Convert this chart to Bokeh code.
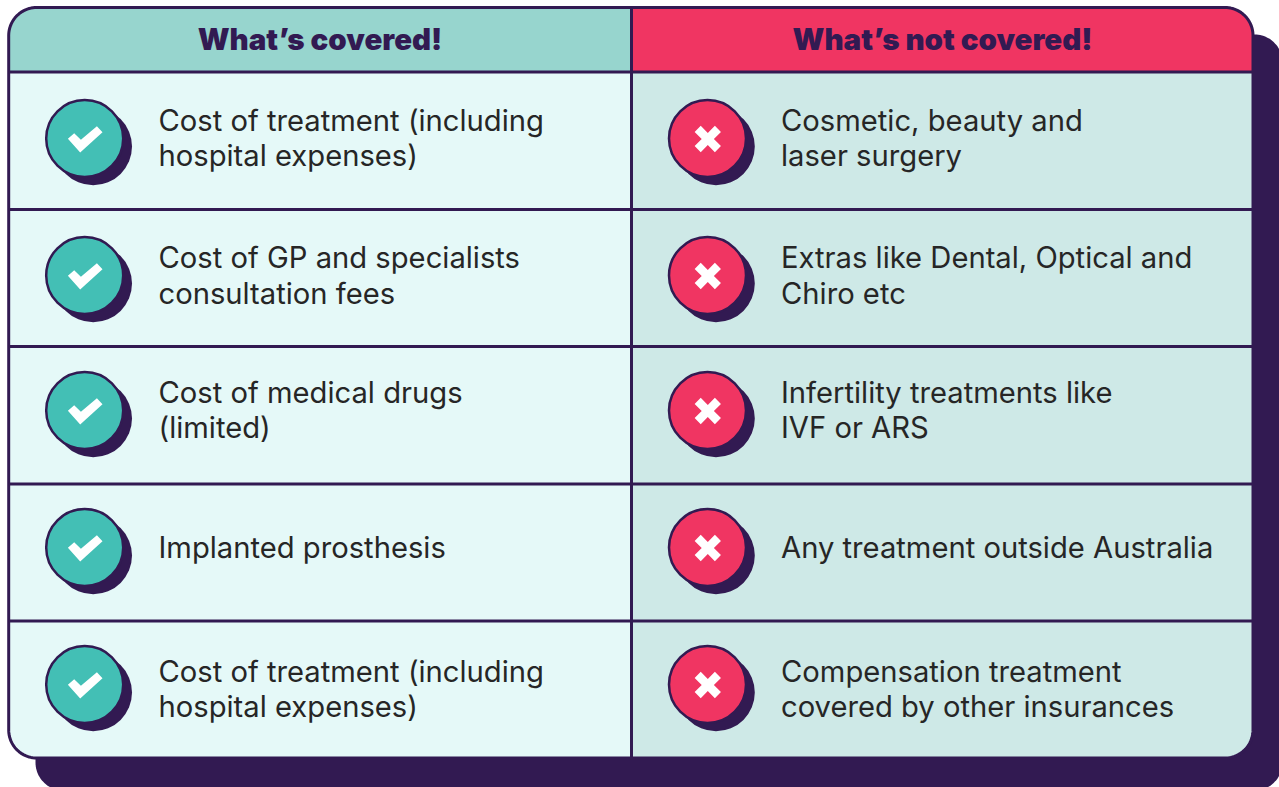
import numpy as np
from bokeh.plotting import figure
from bokeh.models import Range1d
from bokeh.core.properties import value
from bokeh.embed import file_html
from bokeh.resources import INLINE

DARK = "#321A52"
HEAD_L = "#97D5CE"
HEAD_R = "#F03562"
CELL_L = "#E5F9F8"
CELL_R = "#CEE9E7"
TEAL = "#43BFB5"
RED = "#F03562"
TEXT = "#262626"

headers = ["What\u2019s covered!", "What\u2019s not covered!"]
covered = [
    ["Cost of treatment (including", "hospital expenses)"],
    ["Cost of GP and specialists", "consultation fees"],
    ["Cost of medical drugs", "(limited)"],
    ["Implanted prosthesis"],
    ["Cost of treatment (including", "hospital expenses)"],
]
not_covered = [
    ["Cosmetic, beauty and", "laser surgery"],
    ["Extras like Dental, Optical and", "Chiro etc"],
    ["Infertility treatments like", "IVF or ARS"],
    ["Any treatment outside Australia"],
    ["Compensation treatment", "covered by other insurances"],
]
row_lines = [71.5, 209, 346, 483.5, 620.5]
icon_y = [138, 275, 410, 547, 684]
text_y = [[119.5, 154.5], [256.5, 292.5], [391.5, 426.5], [546.5], [670.5, 705.5]]

X0, X1, XM, Y0, Y1 = 8.2, 1252.5, 631, 7, 757.5


def rounded(x0, y0, x1, y1, r, corners=(True, True, True, True)):
    xs, ys = [], []
    spec = [(x0 + r, y0 + r, 180, 270, corners[0], x0, y0),
            (x1 - r, y0 + r, 270, 360, corners[1], x1, y0),
            (x1 - r, y1 - r, 0, 90, corners[2], x1, y1),
            (x0 + r, y1 - r, 90, 180, corners[3], x0, y1)]
    for cx, cy, a, b, on, px, py in spec:
        if on:
            t = np.radians(np.linspace(a, b, 24))
            xs += list(cx + r * np.cos(t))
            ys += list(cy + r * np.sin(t))
        else:
            xs.append(px)
            ys.append(py)
    return xs, ys


p = figure(width=1279, height=787, x_range=Range1d(0, 1279), y_range=Range1d(787, 0),
           output_backend="svg", toolbar_location=None, min_border=0,
           outline_line_color=None, background_fill_color="white",
           border_fill_color="white")
p.axis.visible = False
p.grid.visible = False

sx, sy = rounded(35, 34, 1282, 790, 28)
p.patch(sx, sy, fill_color=DARK, line_color=None)

r = 28
xs, ys = rounded(X0, row_lines[0], XM, Y1, r, (False, False, False, True))
p.patch(xs, ys, fill_color=CELL_L, line_color=None)
xs, ys = rounded(XM, row_lines[0], X1, Y1, r, (False, False, True, False))
p.patch(xs, ys, fill_color=CELL_R, line_color=None)
xs, ys = rounded(X0, Y0, XM, row_lines[0], r, (True, False, False, False))
p.patch(xs, ys, fill_color=HEAD_L, line_color=None)
xs, ys = rounded(XM, Y0, X1, row_lines[0], r, (False, True, False, False))
p.patch(xs, ys, fill_color=HEAD_R, line_color=None)

xs, ys = rounded(X0, Y0, X1, Y1, r)
p.patch(xs, ys, fill_color=None, line_color=DARK, line_width=3)
p.multi_line([[X0, X1] for _ in row_lines], [[y, y] for y in row_lines],
             line_color=DARK, line_width=3)
p.line([XM, XM], [Y0, Y1], line_color=DARK, line_width=3)

p.text([319.5, 942], [38, 38], text=headers, text_font=value("Inter Black"), text_font_style="bold",
       text_font_size="29.5px", text_color=DARK, text_align="center", text_baseline="middle")

ICON_L, ICON_R = 84.2, 707
for cx, color in [(ICON_L, TEAL), (ICON_R, RED)]:
    n = len(icon_y)
    p.circle([cx + 8.5] * n, [y + 8 for y in icon_y], radius=38.8, fill_color=DARK, line_color=None)
    p.circle([cx] * n, icon_y, radius=38.5, fill_color=color, line_color=DARK, line_width=2.5)

chk_x = np.array([-16.8, -4.5, 17.8, 12.2, -3.8, -10.5])
chk_y = np.array([0.3, 14, -6.3, -12.3, 1.3, -5.3])
p.patches([list(ICON_L + chk_x) for _ in icon_y], [list(y + chk_y) for y in icon_y],
          fill_color="white", line_color=None)

arm, w = 14.3, 4.3
pts = []
for ang in [45, 135, 225, 315]:
    t = np.radians(ang)
    u = np.array([np.cos(t), np.sin(t)])
    v = np.array([-u[1], u[0]])
    pts += [u * arm - v * w, u * arm + v * w, (u + v) * w]
pts = np.array(pts)
p.patches([list(ICON_R + 0.3 + pts[:, 0]) for _ in icon_y], [list(y + 0.5 + pts[:, 1]) for y in icon_y],
          fill_color="white", line_color=None)

for col, x in [(covered, 158), (not_covered, 780.5)]:
    for lines, ys_ in zip(col, text_y):
        p.text([x] * len(lines), ys_, text=lines, text_font=value("Inter"),
               text_font_size="29.2px", text_color=TEXT, text_align="left", text_baseline="middle")

open("out.html", "w").write(file_html(p, INLINE))
